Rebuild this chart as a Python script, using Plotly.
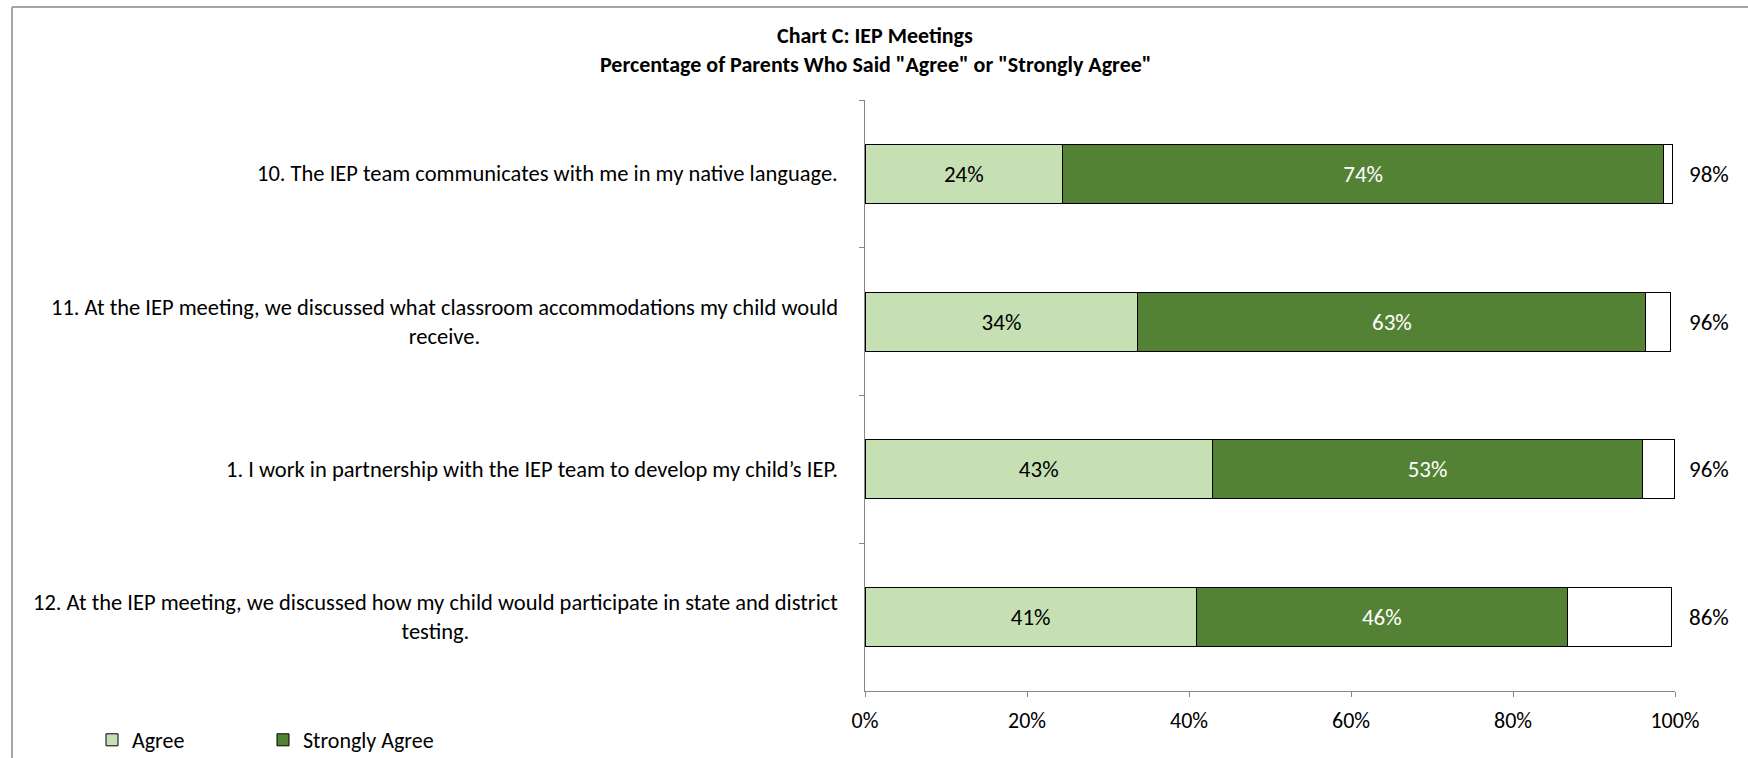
import plotly.graph_objects as go

categories = [
    "10. The IEP team communicates with me in my native language.",
    "11. At the IEP meeting, we discussed what classroom accommodations my child would<br>receive.",
    "1. I work in partnership with the IEP team to develop my child\u2019s IEP.",
    "12. At the IEP meeting, we discussed how my child would participate in state and district<br>testing.",
]
agree = [24.4, 33.7, 42.9, 40.9]
strongly_agree = [74.2, 62.7, 53.1, 45.8]
remainder = [1.1, 3.0, 3.9, 12.9]
agree_labels = ["24%", "34%", "43%", "41%"]
strong_labels = ["74%", "63%", "53%", "46%"]
total_labels = ["98%", "96%", "96%", "86%"]
x_ticks = [0, 20, 40, 60, 80, 100]
x_tick_text = ["0%", "20%", "40%", "60%", "80%", "100%"]
title_lines = ["Chart C: IEP Meetings",
               "Percentage of Parents Who Said \"Agree\" or \"Strongly Agree\""]

FONT = "Carlito, 'Liberation Sans Narrow', 'Arial Narrow', 'Open Sans', sans-serif"
W, H = 1748, 758
L, R, T, B = 865, 73, 100, 67
pw, ph = W - L - R, H - T - B

fig = go.Figure()
fig.add_trace(go.Bar(
    y=categories, x=agree, orientation="h", name="Agree",
    marker=dict(color="#C6E0B4", line=dict(color="#000000", width=1)),
    text=agree_labels, textposition="inside", insidetextanchor="middle",
    textangle=0, insidetextfont=dict(color="#000000", size=23, family=FONT),
))
fig.add_trace(go.Bar(
    y=categories, x=strongly_agree, orientation="h", name="Strongly Agree",
    marker=dict(color="#548235", line=dict(color="#000000", width=1)),
    text=strong_labels, textposition="inside", insidetextanchor="middle",
    textangle=0, insidetextfont=dict(color="#FFFFFF", size=23, family=FONT),
))
fig.add_trace(go.Bar(
    y=categories, x=remainder, orientation="h", name="Other",
    marker=dict(color="#FFFFFF", line=dict(color="#000000", width=1)),
    showlegend=False, hoverinfo="skip",
))

annotations = []
for cat in categories:
    annotations.append(dict(
        text=cat, xref="paper", yref="y", x=0, y=cat, xanchor="right",
        yanchor="middle", xshift=-25, align="center", showarrow=False,
        font=dict(size=22.5, family=FONT, color="#000000"),
    ))
for cat, t in zip(categories, total_labels):
    annotations.append(dict(
        text=t, xref="paper", yref="y", x=1, y=cat, xanchor="left",
        yanchor="middle", xshift=12, showarrow=False,
        font=dict(size=23, family=FONT, color="#000000"),
    ))
for i, line in enumerate(title_lines):
    cy = [35, 64][i]
    annotations.append(dict(
        text="<b>" + line + "</b>", xref="paper", yref="paper",
        x=(875 - L) / pw, y=(H - B - cy) / ph, xanchor="center", yanchor="middle",
        showarrow=False, font=dict(size=22, family=FONT, color="#000000"),
    ))

bx = (12 - L) / pw
ty = (H - B - 7) / ph
shapes = [
    dict(type="line", xref="paper", yref="paper", x0=bx, x1=bx, y0=-0.3, y1=ty,
         line=dict(color="#A6A6A6", width=2)),
    dict(type="line", xref="paper", yref="paper", x0=bx, x1=1.2, y0=ty, y1=ty,
         line=dict(color="#A6A6A6", width=2)),
]

fig.update_layout(
    width=W, height=H,
    barmode="stack", bargap=0.6,
    paper_bgcolor="#FFFFFF", plot_bgcolor="#FFFFFF",
    margin=dict(l=L, r=R, t=T, b=B, pad=0, autoexpand=False),
    font=dict(family=FONT, size=22, color="#000000"),
    xaxis=dict(
        range=[0, 100], tickvals=x_ticks, ticktext=x_tick_text,
        showgrid=False, zeroline=False, showline=True, linecolor="#868686",
        linewidth=1, ticks="outside", ticklen=5, tickcolor="#868686",
        ticklabelstandoff=5,
        tickfont=dict(size=22, family=FONT), fixedrange=True,
    ),
    yaxis=dict(
        autorange="reversed", showticklabels=False, showgrid=False,
        showline=True, linecolor="#868686", linewidth=1,
        ticks="outside", tickson="boundaries", ticklen=5, tickcolor="#868686",
    ),
    showlegend=True,
    legend=dict(
        orientation="h", x=(92 - L) / pw, xanchor="left",
        y=-(740 - (H - B)) / ph, yanchor="middle",
        font=dict(size=22, family=FONT), entrywidth=126,
        itemwidth=30, traceorder="normal", bgcolor="rgba(0,0,0,0)",
    ),
    annotations=annotations,
    shapes=shapes,
)

fig.write_html(
    "out.html",
    config={"displayModeBar": False},
    post_script="document.body.style.margin='0';document.body.style.overflow='hidden';",
)
